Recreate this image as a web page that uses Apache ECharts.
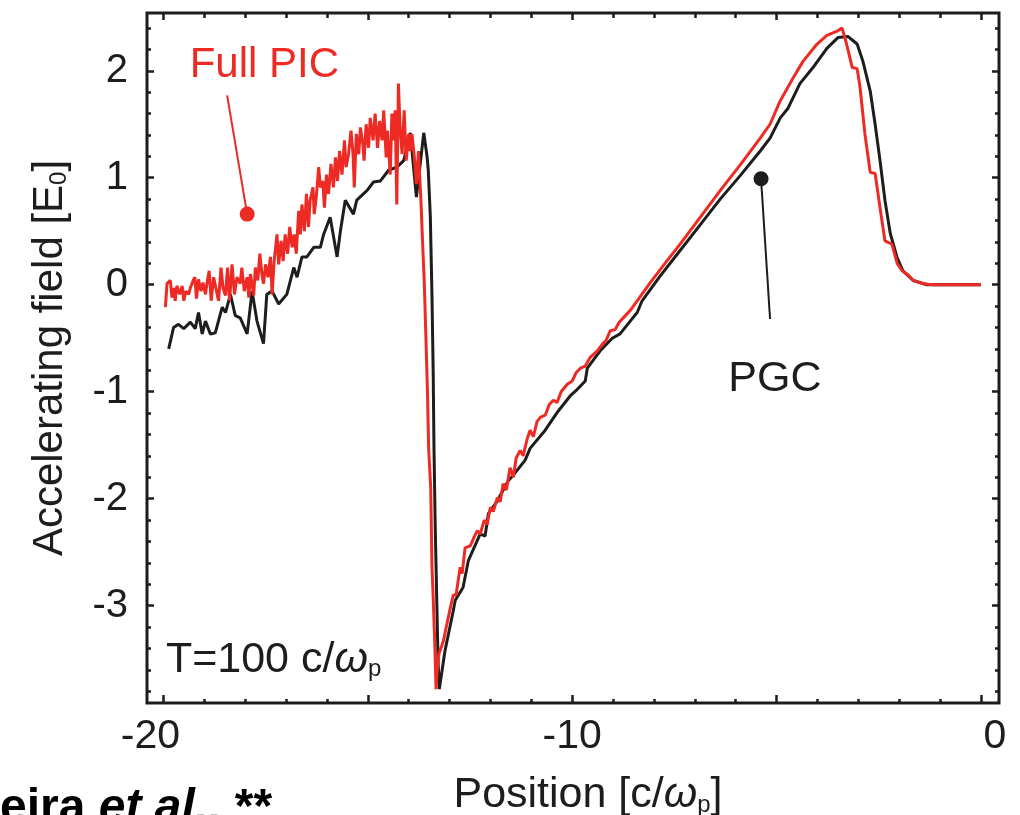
<!doctype html>
<html>
<head>
<meta charset="utf-8">
<script src="https://cdn.jsdelivr.net/npm/echarts@6/dist/echarts.min.js"></script>
<style>
  html, body { margin: 0; padding: 0; background: #fff; }
  #chart { width: 1020px; height: 815px; }
</style>
</head>
<body>
<div id="chart"></div>
<script>
// ---- data (position in c/wp, field in E0) ----
const redX = [
  -19.95, -19.91, -19.83, -19.79, -19.75, -19.71, -19.67, -19.60, -19.54, -19.50,
  -19.45, -19.38, -19.34, -19.27, -19.23, -19.19, -19.14, -19.08, -19.03, -18.97,
  -18.93, -18.88, -18.83, -18.77, -18.70, -18.65, -18.59, -18.54, -18.48, -18.43,
  -18.38, -18.32, -18.26, -18.20, -18.12, -18.08, -18.02, -17.95, -17.91, -17.87,
  -17.79, -17.75, -17.69, -17.64, -17.59, -17.55, -17.50, -17.44, -17.38, -17.34,
  -17.29, -17.22, -17.18, -17.12, -17.07, -17.02, -16.96, -16.91, -16.85, -16.80,
  -16.75, -16.69, -16.65, -16.61, -16.55, -16.50, -16.45, -16.41, -16.34, -16.31,
  -16.26, -16.20, -16.16, -16.10, -16.06, -16.01, -15.96, -15.90, -15.84, -15.79,
  -15.74, -15.69, -15.63, -15.57, -15.53, -15.47, -15.41, -15.36, -15.33, -15.28,
  -15.22, -15.18, -15.12, -15.09, -15.04, -14.98, -14.94, -14.87, -14.82, -14.76,
  -14.71, -14.65, -14.61, -14.55, -14.52, -14.45, -14.41, -14.37, -14.33, -14.29,
  -14.25, -14.21, -14.16, -14.11, -14.06, -14.00, -13.96, -13.92, -13.86, -13.81,
  -13.76, -13.70, -13.66,
  -13.62, -13.58, -13.54, -13.51, -13.46, -13.43, -13.40, -13.36, -13.33, -13.30,
  -13.26, -13.23, -13.15, -13.08, -12.98, -12.91, -12.84, -12.74, -12.69, -12.62,
  -12.49, -12.40, -12.32, -12.25, -12.15, -12.08, -12.00, -11.93, -11.83, -11.76,
  -11.69, -11.61, -11.52, -11.44, -11.37, -11.27, -11.20, -11.10, -11.03, -10.95,
  -10.86, -10.78, -10.66, -10.56, -10.46, -10.37, -10.27, -10.12, -10.00, -9.90,
  -9.80, -9.68, -9.56, -9.39, -9.27, -9.17, -9.07, -8.95, -8.85, -8.75,
  -8.58, -8.41, -8.09, -7.73, -7.36, -6.87, -6.38, -5.89, -5.40, -5.16,
  -4.91, -4.60, -4.35, -4.01, -3.77, -3.52, -3.40, -3.33, -3.25, -3.15,
  -3.03, -2.96, -2.84, -2.71, -2.59, -2.47, -2.35, -2.18, -2.05, -1.93,
  -1.78, -1.66, -1.42, -1.17, 0
];
const redY = [
  -0.21, 0.01, 0.04, -0.12, -0.03, -0.15, -0.01, -0.09, -0.01, -0.15,
  -0.06, -0.09, -0.03, 0.04, 0.07, -0.13, 0.05, -0.06, 0.02, -0.09,
  0.02, 0.13, -0.15, 0.07, -0.06, -0.15, 0.16, -0.03, -0.10, 0.16,
  -0.15, 0.19, -0.09, 0.07, 0.01, 0.16, -0.06, 0.07, -0.12, 0.10,
  -0.10, 0.16, 0.04, 0.29, 0.10, 0.01, 0.19, 0.07, 0.26, -0.09,
  0.22, 0.47, 0.19, 0.41, 0.22, 0.47, 0.29, 0.54, 0.35, 0.47,
  0.29, 0.69, 0.47, 0.75, 0.50, 0.85, 0.54, 0.79, 0.91, 0.66,
  0.82, 1.10, 0.91, 0.97, 0.72, 1.03, 0.85, 1.13, 0.91, 1.19,
  0.97, 1.25, 1.03, 1.35, 1.10, 1.22, 1.44, 1.22, 0.91, 1.41,
  1.22, 1.47, 1.31, 1.16, 1.50, 1.28, 1.56, 1.35, 1.60, 1.28,
  1.53, 1.35, 1.63, 1.19, 1.44, 1.03, 1.60, 1.35, 1.63, 0.75,
  1.88, 1.47, 1.22, 1.63, 1.16, 1.41, 1.25, 1.41, 1.19, 0.94,
  1.25, 0.79, 0.40,
  0.05, -0.46, -1.00, -1.54, -1.90, -2.63, -2.92, -3.36, -3.78, -3.60,
  -3.45, -3.42, -3.33, -3.20, -3.02, -2.90, -2.90, -2.64, -2.70, -2.46,
  -2.44, -2.36, -2.30, -2.33, -2.20, -2.24, -2.08, -2.12, -1.99, -2.03,
  -1.86, -1.92, -1.71, -1.80, -1.62, -1.55, -1.60, -1.44, -1.36, -1.42,
  -1.28, -1.24, -1.22, -1.12, -1.08, -1.10, -1.00, -0.93, -0.90, -0.82,
  -0.78, -0.76, -0.68, -0.62, -0.56, -0.52, -0.43, -0.42, -0.35, -0.31,
  -0.24, -0.15, 0.02, 0.20, 0.38, 0.63, 0.88, 1.12, 1.37, 1.50,
  1.72, 1.93, 2.09, 2.25, 2.33, 2.37, 2.40, 2.31, 2.19, 2.03,
  2.02, 1.85, 1.41, 1.05, 1.04, 0.72, 0.41, 0.38, 0.20, 0.13,
  0.09, 0.04, 0.01, 0, 0
];
const blackX = [
  -19.87, -19.75, -19.63, -19.50, -19.34, -19.22, -19.14, -19.05, -18.97, -18.85,
  -18.73, -18.56, -18.48, -18.36, -18.24, -18.12, -17.95, -17.83, -17.71, -17.55,
  -17.47, -17.34, -17.18, -16.98, -16.81, -16.73, -16.61, -16.49, -16.32, -16.16,
  -16.08, -15.92, -15.75, -15.67, -15.55, -15.35, -15.27, -15.02, -14.86, -14.69,
  -14.49, -14.29, -14.12, -13.96, -13.81, -13.63, -13.55, -13.52, -13.47, -13.43,
  -13.40, -13.38, -13.35, -13.31, -13.28, -13.25, -13.11, -12.91, -12.86, -12.67,
  -12.54, -12.25, -12.13, -12.05, -11.83, -11.56, -11.44, -11.15, -11.03, -10.66,
  -10.34, -10.05, -9.88, -9.68, -9.63, -9.32, -9.02, -8.83, -8.58, -8.41,
  -8.29, -7.85, -7.36, -6.87, -6.38, -5.89, -5.40, -5.16, -4.91, -4.72,
  -4.43, -4.11, -3.77, -3.50, -3.25, -3.03, -2.89, -2.71, -2.59, -2.47,
  -2.35, -2.22, -2.05, -1.91, -1.66, -1.32, 0
];
const blackY = [
  -0.60, -0.40, -0.37, -0.41, -0.35, -0.41, -0.26, -0.46, -0.34, -0.46,
  -0.45, -0.21, -0.26, -0.09, -0.29, -0.31, -0.46, -0.06, -0.34, -0.55,
  -0.09, -0.06, -0.18, -0.09, 0.16, 0.07, 0.26, 0.26, 0.35, 0.35,
  0.47, 0.63, 0.26, 0.50, 0.79, 0.66, 0.79, 0.88, 0.96, 0.97,
  1.07, 1.10, 1.16, 1.42, 0.82, 1.42, 1.20, 1.07, 0.64, -0.09,
  -0.81, -1.54, -2.26, -2.99, -3.53, -3.78, -3.42, -3.05, -2.95, -2.83,
  -2.58, -2.33, -2.35, -2.14, -2.02, -1.83, -1.78, -1.64, -1.53, -1.36,
  -1.18, -1.04, -0.98, -0.90, -0.78, -0.62, -0.50, -0.46, -0.34, -0.26,
  -0.15, 0.08, 0.32, 0.56, 0.80, 1.02, 1.25, 1.37, 1.56, 1.65,
  1.88, 2.03, 2.21, 2.31, 2.32, 2.25, 2.09, 1.81, 1.50, 1.16,
  0.79, 0.48, 0.25, 0.13, 0.04, 0, 0
];

// axis ranges and ticks
const xRange = [-20.4, 0.44];
const yRange = [-3.91, 2.54];
const xLabels = [-20, -10, 0];
const xMajor = [-20, -15, -10, -5, 0];
const xMinor = [-19, -18, -17, -16, -14, -13, -12, -11, -9, -8, -7, -6, -4, -3, -2, -1];
const yLabels = [-3, -2, -1, 0, 1, 2];
const yMinor = [-3.8, -3.6, -3.4, -3.2, -2.8, -2.6, -2.4, -2.2, -1.8, -1.6, -1.4, -1.2,
  -0.8, -0.6, -0.4, -0.2, 0.2, 0.4, 0.6, 0.8, 1.2, 1.4, 1.6, 1.8, 2.2, 2.4];

// annotations (data coordinates)
const fullPicText = [-17.53, 2.05];
const fullPicPointer = [[-18.44, 1.77], [-17.95, 0.66]];
const pgcText = [-5.04, -0.88];
const pgcPointer = [[-5.16, -0.32], [-5.38, 0.99]];
const timeText = [-19.95, -3.51];

const RED = '#ee2a24';
const INK = '#1d1d1b';
const FONT = 'Liberation Sans, Arial, sans-serif';

function zip(xs, ys) { return xs.map((x, i) => [x, ys[i]]); }

function tickAxis(dim, pos, values, len, extra) {
  const r = dim === 'x' ? xRange : yRange;
  return Object.assign({
    type: 'value', position: pos, min: r[0], max: r[1],
    axisLine: {show: false, onZero: false}, splitLine: {show: false},
    axisTick: {show: true, inside: true, length: len, customValues: values,
      lineStyle: {color: INK, width: 2.5}},
    axisLabel: {show: false}
  }, extra || {});
}

function pointer(pts, color) {
  return {
    type: 'line', silent: true, z: 5,
    data: [{value: pts[0], symbolSize: 0}, {value: pts[1], symbolSize: 15}],
    symbol: 'circle', showSymbol: true,
    lineStyle: {color: color, width: 2}, itemStyle: {color: color}
  };
}

function textMark(pt, label) {
  return {
    type: 'scatter', silent: true, z: 6, symbolSize: 1,
    itemStyle: {color: 'transparent', opacity: 1},
    data: [pt],
    label: Object.assign({show: true, fontFamily: FONT, opacity: 1}, label)
  };
}

const sub = {fontSize: 24, fontFamily: FONT, color: INK, verticalAlign: 'bottom', padding: [16, 0, 0, 0]};

const chart = echarts.init(document.getElementById('chart'));
chart.setOption({
  animation: false,
  grid: {
    left: 147, right: 21, top: 13, bottom: 112,
    show: true, borderColor: INK, borderWidth: 3, backgroundColor: 'transparent',
    outerBoundsMode: 'none'
  },
  xAxis: [
    tickAxis('x', 'bottom', xMajor, 8, {
      name: 'Position [c/{w|ω}{s|p}]', nameLocation: 'middle', nameGap: 71,
      nameTextStyle: {fontSize: 43, color: INK, fontFamily: FONT, padding: [0, 0, 0, 30],
        rich: {w: {fontSize: 43, fontStyle: 'italic', fontFamily: FONT, color: INK}, s: sub}},
      axisLabel: {show: true, customValues: xLabels, margin: 13, fontSize: 41, color: INK, fontFamily: FONT,
        formatter: v => v === -20 ? '{l|-20}' : (v === 0 ? '{r|0}' : String(v)),
        rich: {l: {fontSize: 41, fontFamily: FONT, color: INK, padding: [0, 26, 0, 0]},
               r: {fontSize: 41, fontFamily: FONT, color: INK, padding: [0, 0, 0, 28]}}}
    }),
    tickAxis('x', 'bottom', xMinor, 4),
    tickAxis('x', 'top', xMajor, 7),
    tickAxis('x', 'top', xMinor, 5)
  ],
  yAxis: [
    tickAxis('y', 'left', yLabels, 7, {
      name: 'Accelerating field [E{s|0}]', nameLocation: 'middle', nameGap: 76,
      nameTextStyle: {fontSize: 42, color: INK, fontFamily: FONT, rich: {s: sub}},
      axisLabel: {show: true, customValues: yLabels, margin: 19, fontSize: 40, color: INK, fontFamily: FONT,
        padding: [8, 0, 0, 0], formatter: v => String(v)}
    }),
    tickAxis('y', 'left', yMinor, 4),
    tickAxis('y', 'right', yLabels, 7),
    tickAxis('y', 'right', yMinor, 4)
  ],
  series: [
    {
      name: 'PGC', type: 'line', data: zip(blackX, blackY), showSymbol: false,
      lineStyle: {color: INK, width: 3}, itemStyle: {color: INK}, z: 2
    },
    {
      name: 'Full PIC', type: 'line', data: zip(redX, redY), showSymbol: false,
      lineStyle: {color: RED, width: 3}, itemStyle: {color: RED}, z: 3
    },
    pointer(fullPicPointer, RED),
    pointer(pgcPointer, INK),
    textMark(fullPicText, {position: 'inside', formatter: 'Full PIC', fontSize: 42, color: RED}),
    textMark(pgcText, {position: 'inside', formatter: 'PGC', fontSize: 43, color: INK}),
    textMark(timeText, {position: 'right', distance: 0, formatter: 'T=100 c/{w|ω}{s|p}', fontSize: 43, color: INK,
      rich: {w: {fontSize: 43, fontStyle: 'italic', fontFamily: FONT, color: INK}, s: sub}})
  ],
  graphic: [{
    type: 'text', left: 0, top: 785,
    style: {
      text: '{b|eira }{i|et al.,}{b| **}',
      rich: {
        b: {font: 'bold 48px ' + FONT, fill: '#000'},
        i: {font: 'italic bold 48px ' + FONT, fill: '#000'}
      }
    }
  }]
});

window.onresize = function () {
  chart.resize();
};
</script>
</body>
</html>
